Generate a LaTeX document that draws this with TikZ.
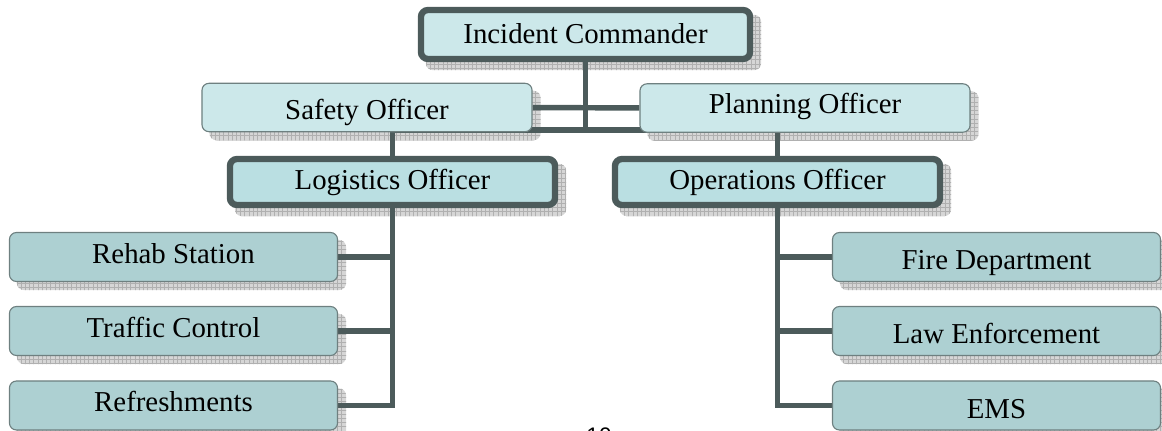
\documentclass[tikz,border=0pt]{standalone}
\usepackage{fontspec}
\setmainfont{Liberation Serif}
\setsansfont{Liberation Sans}
\usepackage{tikz}
\usetikzlibrary{calc,patterns}
\definecolor{paleteal}{RGB}{204,232,234}
\definecolor{midteal}{RGB}{186,223,226}
\definecolor{lowteal}{RGB}{173,208,210}
\definecolor{slate}{RGB}{76,91,91}
\definecolor{edge}{RGB}{110,128,128}
\pgfdeclarelayer{castlayer}
\pgfdeclarelayer{wirelayer}
\pgfsetlayers{castlayer,wirelayer,main}

\begin{document}
\begin{tikzpicture}[x=0.025cm, y=0.025cm]
\tikzstyle{every node}+=[inner sep=0pt, font=\fontsize{20.5}{24}\selectfont]
\tikzstyle{box}=[draw=edge, line width=0.8pt, rounded corners=5pt, text depth=0pt]
\tikzstyle{chief}=[box, draw=slate, line width=4.5pt, fill=paleteal, minimum width=8.225cm, minimum height=1.225cm, text height=13.5pt]
\tikzstyle{aide}=[box, fill=paleteal, minimum width=8.25cm, minimum height=1.21cm]
\tikzstyle{officer}=[box, draw=slate, line width=4.5pt, fill=midteal, minimum width=8.125cm, minimum height=1.15cm, text height=11.3pt]
\tikzstyle{unit}=[box, fill=lowteal, minimum width=8.2cm, minimum height=1.225cm, text height=9pt]
\tikzstyle{wire}=[slate, line width=3.9pt]
\tikzstyle{cast}=[fill=gray!32, rounded corners=5pt]
\tikzstyle{castgrid}=[pattern=grid, pattern color=gray!62, rounded corners=5pt]
\useasboundingbox (0,0) rectangle (1162,-431);
% top
\node [chief] (ic) at (585.5,-34.5) {Incident Commander};
\node [aide, text height=17.7pt] (safety) at (367,-107.5) {Safety Officer};
\node [aide, text height=8.2pt] (planning) at (805,-108) {Planning Officer};
\node [officer] (logistics) at (392.5,-182) {Logistics Officer};
\node [officer] (operations) at (777.5,-182) {Operations Officer};
% units
\node [unit] (rehab) at (173.5,-257) {Rehab Station};
\node [unit] (traffic) at (173.5,-331) {Traffic Control};
\node [unit] (refresh) at (173.5,-405.5) {Refreshments};
\node [unit, text height=18.4pt] (fire) at (996.5,-257) {Fire Department};
\node [unit, text height=18.4pt] (law) at (996.5,-331) {Law Enforcement};
\node [unit, text height=18.4pt] (ems) at (996.5,-405.5) {EMS};
\node [anchor=base, font=\sffamily\fontsize{16}{19}\selectfont] (page) at (599,-443) {10};
% shadows
\begin{pgfonlayer}{castlayer}
\foreach \n in {ic,safety,planning,logistics,operations,rehab,traffic,refresh,fire,law,ems} {
  \fill [cast] ($(\n.south west)+(8,-8)$) rectangle ($(\n.north east)+(8,-8)$);
  \fill [castgrid] ($(\n.south west)+(8,-8)$) rectangle ($(\n.north east)+(8,-8)$);
}
\end{pgfonlayer}
% lines
\begin{pgfonlayer}{wirelayer}
\coordinate (bus) at (585.5,-130);
\draw [wire] (ic) -- (bus);
\draw [wire] (safety) -- (planning);
\draw [wire] (logistics.north) |- (bus) -| (operations.north);
\foreach \u in {rehab,traffic,refresh}
  \draw [wire] (logistics.south) |- (\u.east);
\foreach \u in {fire,law,ems}
  \draw [wire] (operations.south) |- (\u.west);
\end{pgfonlayer}
\end{tikzpicture}
\end{document}
